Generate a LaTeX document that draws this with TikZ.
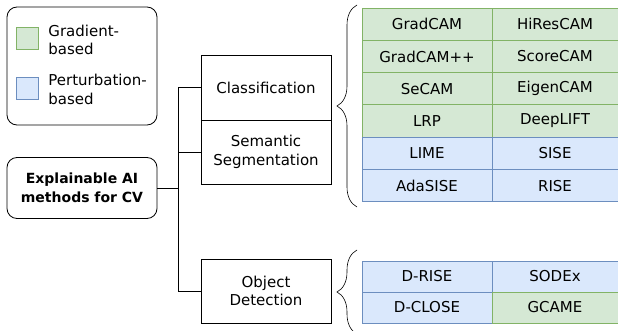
\documentclass[tikz,border=0pt]{standalone}
\usepackage{fontspec}
\setmainfont{DejaVu Sans}
\usetikzlibrary{positioning,decorations.pathreplacing}
\definecolor{gradfill}{HTML}{D5E8D4}
\definecolor{gradline}{HTML}{82B366}
\definecolor{pertfill}{HTML}{DAE8FC}
\definecolor{pertline}{HTML}{6C8EBF}

\begin{document}
\begin{tikzpicture}
    [x=1pt, y=-1pt, line width=0.8pt,
every node/.style={font=\fontsize{15}{18.5}\selectfont},
swatch/.style={rectangle, minimum size=22pt, inner sep=0pt},
taskbox/.style={rectangle, draw, minimum width=130pt, align=center},
gradcell/.style={rectangle, draw=gradline, fill=gradfill, minimum width=#1, minimum height=32.3pt, inner sep=0pt},
pertcell/.style={rectangle, draw=pertline, fill=pertfill, minimum width=#1, minimum height=32.3pt, inner sep=0pt},
curly/.style={decorate, decoration={brace, amplitude=20pt}, line width=0.6pt}
]
\useasboundingbox (0,0) rectangle (618,331);

% legend
\node[rectangle, draw, rounded corners=10pt, minimum width=150pt, minimum height=118pt] (legend) at (82,66) {};
\node[swatch, draw=gradline, fill=gradfill] (gradkey) at (27,38) {};
\node[anchor=west, align=left, inner sep=0pt] (gradtxt) at (48,40) {Gradient-\\based};
\node[swatch, draw=pertline, fill=pertfill] (pertkey) at (27,88.5) {};
\node[anchor=west, align=left, inner sep=0pt] (perttxt) at (48,89.5) {Perturbation-\\based};

% root and tasks
\node[rectangle, draw, rounded corners=10pt, minimum width=150pt, minimum height=61pt, align=center,
      font=\fontsize{14}{19}\selectfont\bfseries] (root) at (82,188) {Explainable AI\\methods for CV};
\node[taskbox, minimum height=65pt] (cls) at (266,87.5) {Classification};
\node[taskbox, minimum height=64pt] (seg) at (266,152) {Semantic\\Segmentation};
\node[taskbox, minimum height=64pt] (det) at (266,291) {Object\\Detection};

\draw (root.east) -- ++(22,0);
\draw (cls.west) -- ++(-22,0) |- (det.west);
\draw (seg.west) -- ++(-22,0);

% methods for classification / segmentation
\node[gradcell=130pt] (gradcam) at (427,24.15) {GradCAM};
\node[gradcell=126pt] (hirescam) at (555,24.15) {HiResCAM};
\node[gradcell=130pt] (gradcampp) at (427,56.45) {GradCAM++};
\node[gradcell=126pt] (scorecam) at (555,56.45) {ScoreCAM};
\node[gradcell=130pt] (secam) at (427,88.75) {SeCAM};
\node[gradcell=126pt] (eigencam) at (555,88.75) {EigenCAM};
\node[gradcell=130pt] (lrp) at (427,121.05) {LRP};
\node[gradcell=126pt] (deeplift) at (555,121.05) {DeepLIFT};
\node[pertcell=130pt] (lime) at (427,153.35) {LIME};
\node[pertcell=126pt] (sise) at (555,153.35) {SISE};
\node[pertcell=130pt] (adasise) at (427,185.65) {AdaSISE};
\node[pertcell=126pt] (rise) at (555,185.65) {RISE};

% methods for detection
\node[pertcell=130pt, minimum height=31pt] (drise) at (427,276.5) {D-RISE};
\node[pertcell=126pt, minimum height=31pt] (sodex) at (555,276.5) {SODEx};
\node[pertcell=130pt, minimum height=31pt] (dclose) at (427,307.5) {D-CLOSE};
\node[gradcell=126pt, minimum height=31pt] (gcame) at (555,307.5) {GCAME};

% braces
\coordinate (clsbot) at (357,207);
\coordinate (clstop) at (357,5);
\coordinate (detbot) at (357,334);
\coordinate (dettop) at (357,250);
\draw[curly] (clsbot) -- (clstop);
\draw[curly] (detbot) -- (dettop);
\end{tikzpicture}
\end{document}
